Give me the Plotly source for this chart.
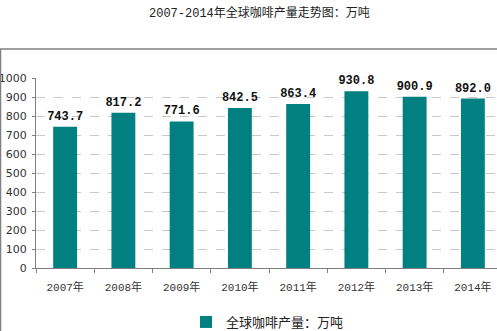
import plotly.graph_objects as go

# Global coffee production, 10k tonnes
years = ["2007年", "2008年", "2009年", "2010年", "2011年", "2012年", "2013年", "2014年"]
production = [743.7, 817.2, 771.6, 842.5, 863.4, 930.8, 900.9, 892.0]
value_labels = ["743.7", "817.2", "771.6", "842.5", "863.4", "930.8", "900.9", "892.0"]
y_ticks = [0, 100, 200, 300, 400, 500, 600, 700, 800, 900, 1000]

W, H = 497, 331
L, T, B = 36, 78, 63
R = 0
plot_w = W - L - R
plot_h = H - T - B

teal = "#008080"
grey = "#808080"
mono_cjk = "Liberation Mono, Noto Sans CJK SC, monospace"

fig = go.Figure()
fig.add_trace(go.Bar(
    x=years,
    y=production,
    name="全球咖啡产量：万吨",
    marker=dict(color=teal, line=dict(width=0)),
    width=0.41,
    text=value_labels,
    textposition="outside",
    constraintext="none",
    cliponaxis=False,
    textfont=dict(family="Liberation Mono, DejaVu Sans Mono, monospace", size=12, color="#111111", weight="bold"),
))

# outer frame (left and top edges)
def px_to_paper_x(px):
    return (px - L) / plot_w

def px_to_paper_y(py):
    return (H - B - py) / plot_h

fig.add_shape(type="line", xref="paper", yref="paper",
              x0=px_to_paper_x(0.5), x1=px_to_paper_x(0.5),
              y0=px_to_paper_y(49), y1=px_to_paper_y(H + 5),
              line=dict(color=grey, width=1.5))
fig.add_shape(type="line", xref="paper", yref="paper",
              x0=px_to_paper_x(0), x1=px_to_paper_x(W + 5),
              y0=px_to_paper_y(49), y1=px_to_paper_y(49),
              line=dict(color=grey, width=1.5))

fig.add_annotation(
    text="2007-2014年全球咖啡产量走势图：万吨",
    xref="paper", yref="paper",
    x=px_to_paper_x(259), y=px_to_paper_y(13),
    xanchor="center", yanchor="middle", showarrow=False,
    font=dict(family=mono_cjk, size=12, color="#222222"),
)

fig.update_layout(
    width=W, height=H,
    margin=dict(l=L, r=R, t=T, b=B, pad=0, autoexpand=False),
    paper_bgcolor="white",
    plot_bgcolor="white",
    showlegend=True,
    legend=dict(
        orientation="h",
        x=px_to_paper_x(186), y=px_to_paper_y(322),
        xanchor="left", yanchor="middle",
        font=dict(family="Noto Sans CJK SC, sans-serif", size=13, color="#222222"),
        bgcolor="rgba(0,0,0,0)",
        itemwidth=30,
    ),
    bargap=0.59,
)

fig.update_xaxes(
    type="category",
    automargin=False,
    range=[-0.5, 7.5 - 5 / 58.2],
    showline=True, linecolor=grey, linewidth=1,
    ticks="outside", tickson="boundaries", ticklen=4, tickcolor=grey,
    showgrid=False,
    tickfont=dict(family=mono_cjk, size=11, color="#333333"),
    ticklabelstandoff=9,
)
fig.update_yaxes(
    automargin=False,
    range=[0, 1000],
    tickvals=y_ticks,
    showline=True, linecolor=grey, linewidth=1,
    ticks="outside", ticklen=3, tickcolor=grey,
    showgrid=True, gridcolor="#c8c8c8", griddash="dash", gridwidth=1,
    zeroline=False,
    tickfont=dict(family="DejaVu Sans, sans-serif", size=11, color="#333333"),
    ticklabelstandoff=3,
)

fig.write_html("out.html")
